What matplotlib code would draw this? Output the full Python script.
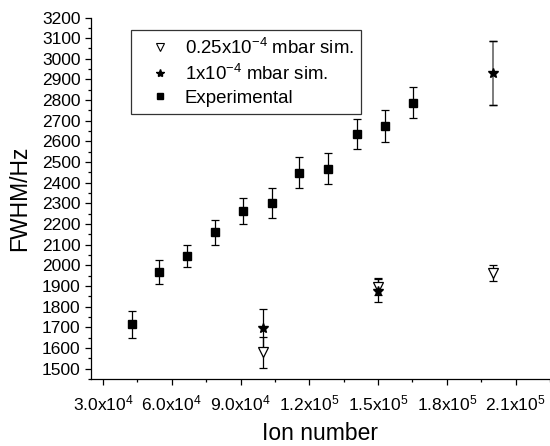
import matplotlib
matplotlib.use("Agg")
import matplotlib.pyplot as plt
from matplotlib.lines import Line2D
from matplotlib.ticker import MultipleLocator

plt.rcParams['font.family'] = ['Liberation Sans', 'DejaVu Sans']
plt.rcParams['mathtext.fontset'] = 'custom'
plt.rcParams['mathtext.rm'] = 'Liberation Sans'
plt.rcParams['mathtext.it'] = 'Liberation Sans:italic'

# Experimental data
exp_x = [42700, 54500, 66700, 79000, 91200, 103900, 115700, 128000, 140600, 152900, 165100]
exp_y = [1715, 1970, 2047, 2160, 2265, 2302, 2449, 2469, 2636, 2673, 2788]
exp_err = [66, 58, 53, 60, 63, 75, 74, 77, 73, 77, 75]

# 1x10^-4 mbar simulation
sim1_x = [100000, 150000, 200000]
sim1_y = [1695, 1878, 2930]
sim1_err = [95, 55, 156]

# 0.25x10^-4 mbar simulation
sim025_x = [100000, 150000, 200000]
sim025_y = [1580, 1897, 1962]
sim025_err = [75, 40, 38]

xticks = [30000, 60000, 90000, 120000, 150000, 180000, 210000]
xticklabels = [r'$\mathregular{3.0x10^{4}}$', r'$\mathregular{6.0x10^{4}}$',
               r'$\mathregular{9.0x10^{4}}$', r'$\mathregular{1.2x10^{5}}$',
               r'$\mathregular{1.5x10^{5}}$', r'$\mathregular{1.8x10^{5}}$',
               r'$\mathregular{2.1x10^{5}}$']
yticks = list(range(1500, 3201, 100))

legend_labels = [r'0.25x10$^{\mathregular{-4}}$ mbar sim.',
                 r'1x10$^{\mathregular{-4}}$ mbar sim.',
                 'Experimental']

fig = plt.figure(figsize=(5.5, 4.46), dpi=100)
ax = fig.add_axes([91/550, 1-379/446, 459/550, (379-17.5)/446])

ekw = dict(ecolor='black', elinewidth=0.9, capsize=3.2, capthick=0.9, linestyle='none')
ax.errorbar(exp_x, exp_y, yerr=exp_err, fmt='s', color='black', ms=5.5, **ekw)
ax.errorbar(sim025_x, sim025_y, yerr=sim025_err, fmt='v', mfc='white', mec='black',
            ms=7, mew=0.9, **ekw)
ax.errorbar(sim1_x[:2], sim1_y[:2], yerr=sim1_err[:2], fmt='*', color='black', ms=7.5, **ekw)
ax.errorbar(sim1_x[2:], sim1_y[2:], yerr=sim1_err[2:], fmt='*', color='black', ms=7.5,
            ecolor='#666666', elinewidth=1.2, capsize=3.2, capthick=1.0, linestyle='none')
ax.errorbar(sim1_x[2:], sim1_y[2:], yerr=sim1_err[2:], fmt='none', ecolor='black',
            elinewidth=0, capsize=3.2, capthick=1.0)

ax.set_xlim(24750, 225000)
ax.set_ylim(1450, 3200)

ax.set_xticks(xticks)
ax.set_xticklabels(xticklabels)
ax.xaxis.set_minor_locator(MultipleLocator(15000))
ax.set_yticks(yticks)
ax.set_yticklabels([str(v) for v in yticks])
ax.yaxis.set_minor_locator(MultipleLocator(50))

ax.tick_params(axis='both', which='major', direction='out', length=4.5, width=0.9,
               labelsize=12.5, colors='black')
ax.tick_params(axis='both', which='minor', direction='out', length=2.5, width=0.9)
ax.tick_params(axis='x', which='major', pad=6)
ax.tick_params(axis='y', which='major', pad=3)

for s in ['top', 'right']:
    ax.spines[s].set_visible(False)
for s in ['left', 'bottom']:
    ax.spines[s].set_linewidth(0.9)

ax.set_xlabel('Ion number', fontsize=16.5, labelpad=6)
ax.set_ylabel('FWHM/Hz', fontsize=16.5, labelpad=8)

handles = [
    Line2D([], [], marker='v', mfc='white', mec='black', ms=5.5, linestyle='none', mew=0.8),
    Line2D([], [], marker='*', color='black', ms=6, linestyle='none'),
    Line2D([], [], marker='s', color='black', ms=4.5, linestyle='none'),
]
leg = ax.legend(handles, legend_labels, loc='upper left',
                bbox_to_anchor=(131/550, 1-30/446), bbox_transform=fig.transFigure,
                fontsize=13.4, frameon=True, fancybox=False, borderaxespad=0,
                handlelength=2.3, handletextpad=0.2, borderpad=0.4, labelspacing=0.32)
leg.get_frame().set_edgecolor('black')
leg.get_frame().set_linewidth(0.9)

fig.savefig('out.png', dpi=100)
